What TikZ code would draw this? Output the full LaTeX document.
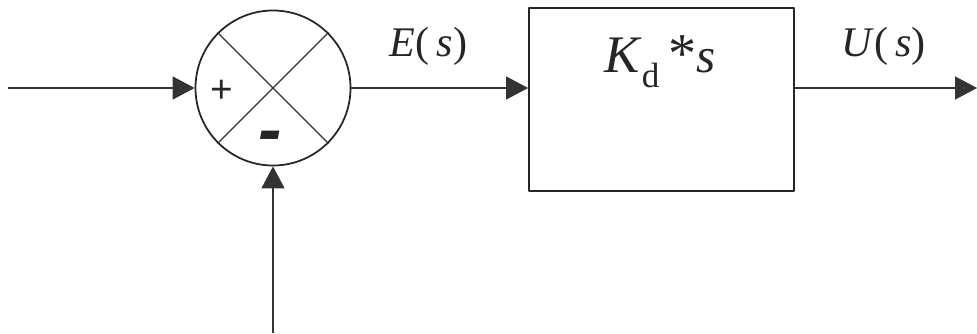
\documentclass[tikz,border=0pt]{standalone}
\usepackage{fontspec}
\setmainfont{Liberation Serif}
\newfontfamily\signfont{Liberation Sans}
\usepackage{tikz}
\usetikzlibrary{arrows.meta,calc,positioning}

\tikzset{
  wire/.style={line width=0.8pt,draw=black!80},
  sig/.style={wire,-{Triangle[length=0.44cm,width=0.46cm]}},
  sumnode/.style={circle,draw=black!85,line width=1pt,minimum size=3.1cm,inner sep=0pt},
  gainbox/.style={rectangle,draw=black!85,line width=1pt,minimum width=5.3cm,minimum height=3.66cm,inner sep=0pt},
  siglabel/.style={anchor=base,font=\fontsize{24}{28}\selectfont}
}

\begin{document}
\begin{tikzpicture}[line join=round,color=black!85]
\useasboundingbox (0,0) rectangle (19.54,6.66);
% --- summing junction
\node[sumnode] (sum) at (5.46,4.90) {};
\draw[wire] (sum.north west) -- (sum.south east);
\draw[wire] (sum.north east) -- (sum.south west);
\node (plus) at (4.44,4.84) {\signfont\fontsize{22}{26}\selectfont +};
\node (minus) at (5.40,3.82) {\signfont\bfseries\itshape\fontsize{40}{44}\selectfont -};
% --- derivative block
\node[gainbox] (box) at (13.23,4.67) {};
\node[anchor=base,font=\fontsize{30}{34}\selectfont] (gain) at (13.2,5.22) {\textit{K}\raisebox{-0.3em}{\fontsize{20}{24}\selectfont d}\,{\fontsize{32}{36}\selectfont *}\textit{\fontsize{28}{32}\selectfont s}};
% --- signals
\coordinate (in) at (0.16,4.90);
\coordinate (fb) at (5.46,0);
\coordinate (out) at (19.54,4.90);
\draw[sig] (in) -- (sum.west);
\draw[sig] (fb) -- (sum.south);
\draw[sig] (sum.east) -- (sum.east -| box.west);
\draw[sig] (sum.east -| box.east) -- (out);
\node[siglabel] (err) at (8.57,5.54) {\textit{E}(\,\textit{s})};
\node[siglabel] (ctl) at (17.67,5.54) {\textit{U}(\,\textit{s})};
\end{tikzpicture}
\end{document}
